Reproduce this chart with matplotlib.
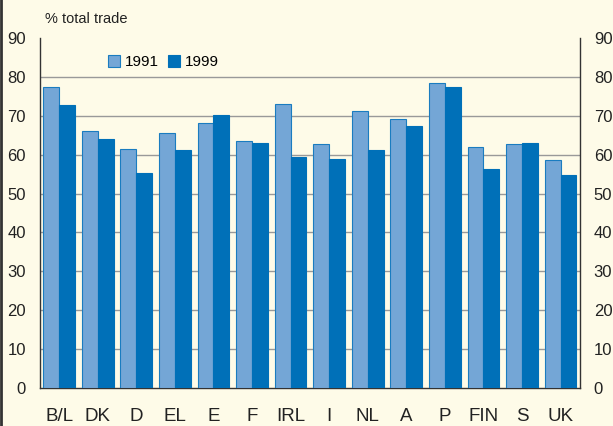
import numpy as np
from matplotlib import pyplot as plt
from matplotlib.lines import Line2D

# Data
countries = ["B/L", "DK", "D", "EL", "E", "F", "IRL", "I", "NL", "A", "P", "FIN", "S", "UK"]
trade_1991 = [77.4, 66.1, 61.5, 65.6, 68.1, 63.5, 73.0, 62.7, 71.2, 69.2, 78.3, 62.0, 62.7, 58.6]
trade_1999 = [72.8, 64.0, 55.3, 61.2, 70.2, 63.0, 59.4, 58.9, 61.2, 67.4, 77.3, 56.3, 63.0, 54.8]
yticks = [0, 10, 20, 30, 40, 50, 60, 70, 80, 90]

plt.rcParams['font.family'] = ['Liberation Sans', 'DejaVu Sans']

bg = "#fefbe8"
light = "#74a6d6"
dark = "#0070b8"

fig = plt.figure(figsize=(6.13, 4.26), dpi=100, facecolor=bg)
ax = fig.add_axes([0.065, 0.089, 0.881, 0.822], facecolor=bg)

x = np.arange(len(countries))
w = 0.41
ax.bar(x - w/2, trade_1991, w, color=light, edgecolor="#1a7cc0", linewidth=0.8, label="1991", zorder=3)
ax.bar(x + w/2, trade_1999, w, color=dark, edgecolor=dark, linewidth=0.8, label="1999", zorder=3)

ax.set_xlim(-0.5, len(countries) - 0.5)
ax.set_ylim(0, 90)
ax.set_yticks(yticks)
ax.set_xticks(x)
ax.set_xticklabels(countries)
ax.tick_params(axis="both", length=0, labelsize=12, colors="#222222")
ax.tick_params(axis="x", pad=14, labelsize=13.5)
ax.tick_params(axis="y", pad=10, labelright=True)

for v in yticks[1:-1]:
    ax.axhline(v, color="#999999", linewidth=1.0, zorder=1)

ax.spines["top"].set_visible(False)
for s in ["left", "right", "bottom"]:
    ax.spines[s].set_color("#333333")
    ax.spines[s].set_linewidth(1.0)

ax.legend(loc="upper left", bbox_to_anchor=(0.1, 0.99), ncol=2, frameon=False,
          fontsize=11, handlelength=0.8, handleheight=0.8, handletextpad=0.3,
          columnspacing=0.6)

fig.text(0.073, 0.955, "% total trade", fontsize=10.5, color="#222222", va="center")

# left border of the panel
fig.add_artist(Line2D([0.002, 0.002], [0, 1], transform=fig.transFigure, color="#333333", linewidth=2))

fig.savefig("out.png", dpi=100, facecolor=bg)
